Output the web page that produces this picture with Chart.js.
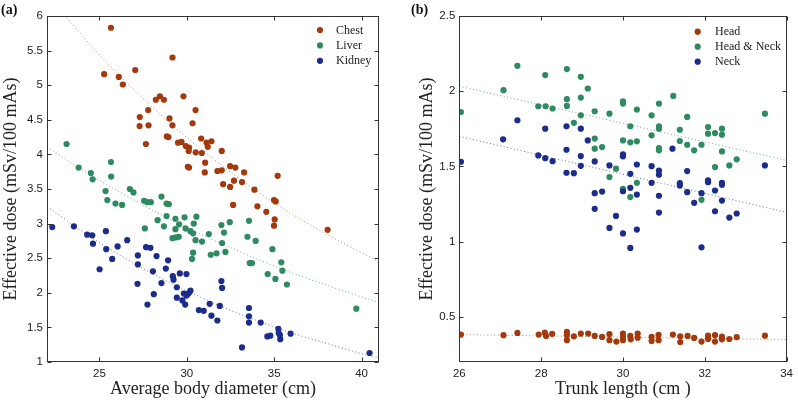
<!DOCTYPE html>
<html><head><meta charset="utf-8">
<script src="https://cdn.jsdelivr.net/npm/chart.js@4/dist/chart.umd.min.js"></script>
<style>
html,body{margin:0;padding:0;background:#fff;}
#wrap{position:relative;width:798px;height:400px;overflow:hidden;background:#fff;}
canvas{position:absolute;top:0;}
#ca{left:0;} #cb{left:400px;}
.plabel{position:absolute;top:2px;font:bold 14px 'Liberation Serif',serif;color:#111;}
</style></head><body>
<div id="wrap">
<canvas id="ca" width="398" height="400"></canvas>
<canvas id="cb" width="398" height="400"></canvas>
<div class="plabel" style="left:1px">(a)</div>
<div class="plabel" style="left:411px">(b)</div>
</div>
<script>
// ---------- Panel (a) data ----------
const namesA = ['Chest','Liver','Kidney'];
const xTicksA = [25,30,35,40];
const yTicksA = [1,1.5,2,2.5,3,3.5,4,4.5,5,5.5,6];
const chest = [[25.66,5.83],[29.18,5.40],[25.27,5.16],[27.05,5.22],[26.11,5.12],[26.34,5.01],[28.23,4.79],[28.46,4.84],[28.69,4.79],[29.81,4.84],[30.50,4.64],[27.79,4.64],[27.31,4.54],[27.30,4.41],[27.81,4.42],[29.01,4.52],[29.18,4.42],[30.33,4.45],[27.66,4.15],[28.86,4.26],[28.95,4.25],[29.50,4.17],[29.70,4.18],[29.94,4.12],[30.13,4.10],[30.11,4.05],[30.51,4.03],[30.86,4.02],[30.82,4.23],[31.13,4.17],[31.41,4.19],[31.20,4.11],[32.00,4.05],[30.06,3.82],[30.13,3.81],[31.05,3.88],[31.03,3.74],[31.75,3.76],[32.00,3.77],[32.48,3.83],[32.78,3.81],[33.28,3.74],[32.70,3.62],[33.16,3.60],[32.08,3.57],[32.48,3.53],[35.20,3.69],[33.87,3.49],[34.99,3.34],[35.09,3.32],[32.65,3.27],[34.04,3.25],[34.55,3.17],[35.03,3.06],[34.99,2.97],[38.06,2.91]];
const liver = [[23.12,4.15],[23.81,3.81],[24.51,3.73],[24.61,3.64],[25.66,3.89],[25.67,3.68],[25.35,3.47],[26.74,3.50],[26.95,3.45],[25.45,3.34],[25.92,3.29],[26.30,3.27],[27.56,3.33],[27.73,3.31],[27.94,3.31],[28.55,3.39],[28.84,3.29],[28.97,3.28],[27.60,2.93],[28.33,3.05],[28.84,3.11],[28.69,2.96],[29.35,3.07],[29.87,3.09],[29.56,2.99],[29.35,2.92],[29.93,2.93],[30.55,3.10],[30.40,3.00],[30.21,2.89],[30.36,2.86],[29.18,2.79],[29.37,2.80],[29.54,2.81],[30.50,2.76],[30.87,2.74],[31.26,2.85],[31.98,2.98],[32.46,3.02],[32.13,2.87],[32.02,2.72],[33.56,3.04],[33.47,2.81],[33.94,2.75],[30.36,2.58],[30.30,2.49],[31.37,2.55],[31.70,2.57],[32.21,2.59],[34.90,2.63],[33.60,2.43],[33.73,2.43],[35.41,2.44],[35.47,2.32],[34.63,2.27],[35.07,2.20],[35.73,2.12],[39.70,1.77]];
const kidney = [[22.30,2.95],[23.54,2.96],[24.30,2.84],[24.59,2.83],[24.63,2.71],[25.37,2.89],[25.39,2.63],[26.04,2.67],[25.73,2.49],[26.59,2.76],[25.01,2.34],[27.20,2.54],[27.20,2.41],[27.18,2.13],[27.75,1.83],[27.67,2.66],[27.92,2.65],[28.27,2.53],[28.06,2.31],[28.93,2.47],[28.80,2.35],[28.55,2.14],[28.11,1.98],[29.20,2.24],[29.24,2.19],[29.60,2.28],[29.98,2.27],[29.43,2.08],[29.43,1.93],[29.83,1.99],[29.75,1.89],[29.91,1.83],[30.04,1.98],[30.21,2.03],[30.13,2.00],[29.98,1.96],[30.69,1.75],[31.98,2.17],[32.02,2.07],[31.31,1.84],[31.89,1.81],[30.97,1.74],[31.41,1.67],[31.75,1.60],[33.56,1.78],[33.56,1.66],[33.56,1.57],[34.23,1.57],[35.24,1.48],[33.16,1.21],[34.61,1.37],[34.78,1.38],[35.26,1.42],[35.33,1.39],[35.35,1.33],[35.94,1.41],[40.46,1.13]];
// trend curves
const chestFit = [[23.1,5.98],[25,5.44],[27,4.93],[29,4.46],[31,4.04],[33,3.65],[35,3.30],[37,2.99],[39,2.71],[41,2.45]];
const liverFit = [[22,4.11],[24,3.78],[26,3.48],[28,3.20],[30,2.94],[32,2.71],[34,2.49],[36,2.29],[38,2.11],[40,1.94],[41,1.86]];
const kidneyFit = [[22,3.25],[24,2.89],[26,2.57],[28,2.28],[30,2.03],[32,1.80],[34,1.60],[36,1.42],[38,1.27],[40,1.12],[41,1.06]];

// ---------- Panel (b) data ----------
const namesB = ['Head','Head & Neck','Neck'];
const xTicksB = [26,28,30,32,34];
const yTicksB = [0.5,1,1.5,2,2.5];
const head = [[26.04,0.382],[27.08,0.378],[27.42,0.393],[27.94,0.382],[28.09,0.395],[28.12,0.373],[28.27,0.387],[28.63,0.40],[28.63,0.378],[28.63,0.345],[28.80,0.371],[28.97,0.389],[29.15,0.389],[29.31,0.373],[29.49,0.367],[29.67,0.385],[29.67,0.345],[29.84,0.336],[30.00,0.389],[30.00,0.367],[30.00,0.345],[30.18,0.373],[30.19,0.351],[30.36,0.389],[30.36,0.362],[30.70,0.367],[30.70,0.34],[30.87,0.38],[30.87,0.345],[31.22,0.382],[31.40,0.371],[31.40,0.333],[31.58,0.373],[31.74,0.36],[31.92,0.336],[32.08,0.375],[32.08,0.353],[32.25,0.378],[32.25,0.336],[32.42,0.369],[32.42,0.351],[32.60,0.353],[32.78,0.365],[33.47,0.375]];
const headNeck = [[26.04,1.862],[27.08,2.007],[27.42,2.169],[28.10,2.107],[28.63,2.147],[27.93,1.90],[28.11,1.90],[28.28,1.885],[28.63,1.947],[28.63,1.902],[28.80,1.79],[28.97,2.096],[29.14,2.018],[28.97,1.958],[28.97,1.84],[29.31,1.867],[29.67,1.851],[30.00,1.933],[30.00,1.918],[30.34,1.878],[30.18,1.767],[29.31,1.685],[29.31,1.618],[29.49,1.629],[30.00,1.673],[30.18,1.66],[30.34,1.667],[29.83,1.485],[29.67,1.429],[30.34,1.391],[30.00,1.351],[30.18,1.296],[30.88,1.918],[30.70,1.84],[31.23,1.969],[31.57,1.829],[30.88,1.767],[30.88,1.751],[30.70,1.707],[31.39,1.744],[32.08,1.762],[32.08,1.718],[32.25,1.722],[32.42,1.751],[32.42,1.711],[30.88,1.622],[30.88,1.607],[31.39,1.669],[31.57,1.644],[31.74,1.607],[31.92,1.644],[32.42,1.60],[32.78,1.547],[32.60,1.507],[32.25,1.496],[33.47,1.851],[31.92,1.278]];
const neck = [[26.04,1.531],[27.07,1.68],[27.42,1.807],[28.10,1.751],[28.62,1.767],[28.97,1.751],[27.93,1.573],[28.10,1.555],[28.28,1.535],[28.62,1.611],[28.62,1.458],[28.80,1.455],[28.97,1.569],[28.97,1.504],[29.14,1.673],[29.31,1.533],[29.31,1.322],[29.49,1.333],[29.31,1.218],[29.67,1.507],[29.83,1.171],[29.67,1.091],[30.00,1.58],[30.00,1.567],[30.00,1.335],[30.18,1.358],[30.18,1.451],[30.34,1.513],[30.34,1.313],[30.00,1.055],[30.18,0.958],[30.34,1.08],[30.70,1.502],[30.88,1.473],[30.88,1.445],[30.70,1.391],[30.88,1.305],[30.88,1.193],[31.21,1.618],[31.39,1.389],[31.39,1.373],[31.57,1.469],[31.57,1.329],[31.74,1.258],[31.92,1.322],[32.08,1.407],[32.08,1.395],[32.25,1.34],[32.42,1.391],[32.42,1.378],[32.42,1.273],[32.25,1.202],[32.60,1.16],[32.78,1.187],[31.92,0.962],[33.47,1.507]];
const headFit = [[26,0.382],[34,0.349]];
const headNeckFit = [[26,2.033],[34,1.54]];
const neckFit = [[26,1.70],[34,1.195]];

// ---------- styling ----------
const ORANGE = '#A3390C', GREEN = '#2E8A61', BLUE = '#1B2C8C';
const ORANGE_L = 'rgba(190,100,60,0.8)', GREEN_L = 'rgba(70,150,130,0.8)', BLUE_L = 'rgba(60,75,150,0.8)';
const TICKFONT = {family:"'Liberation Sans', Arial, sans-serif", size:11.5};
const TITLEFONT = {family:"'Liberation Serif', 'Times New Roman', serif", size:18};
const toXY = arr => arr.map(p => ({x:p[0], y:p[1]}));

function pts(label, arr, color, order){
  return {label, data: toXY(arr), inLegend:true, order,
    backgroundColor: color, borderColor: color, pointBackgroundColor: color,
    pointRadius: 3.1, pointBorderWidth: 0, pointHoverRadius: 3.1, showLine:false};
}
function fitLine(arr, color){
  return {label:'', data: toXY(arr), inLegend:false, order:10, showLine:true,
    pointRadius:0, borderColor: color, borderWidth:1, borderDash:[1,2.5],
    cubicInterpolationMode:'monotone', fill:false};
}

const framePlugin = {
  id:'frame',
  afterDraw(chart){
    const {ctx, chartArea:a, scales:{x, y}} = chart;
    const L = 4;
    ctx.save();
    ctx.strokeStyle = '#333'; ctx.lineWidth = 1;
    const l = Math.round(a.left)+0.5, t = Math.round(a.top)+0.5, r = Math.round(a.right)-0.5, b = Math.round(a.bottom)-0.5;
    ctx.strokeRect(l, t, r-l, b-t);
    ctx.beginPath();
    x.ticks.forEach(tk => {
      const px = Math.round(x.getPixelForValue(tk.value))+0.5;
      ctx.moveTo(px, b); ctx.lineTo(px, b-L);
      ctx.moveTo(px, t); ctx.lineTo(px, t+L);
    });
    y.ticks.forEach(tk => {
      const py = Math.round(y.getPixelForValue(tk.value))+0.5;
      ctx.moveTo(l, py); ctx.lineTo(l+L, py);
      ctx.moveTo(r, py); ctx.lineTo(r-L, py);
    });
    ctx.stroke();
    ctx.restore();
  }
};

const legendPlugin = {
  id:'ptLegend',
  afterDraw(chart, args, o){
    const ctx = chart.ctx;
    ctx.save();
    ctx.font = "12px 'Liberation Serif', serif";
    ctx.textBaseline = 'middle';
    ctx.textAlign = 'left';
    chart.data.datasets.filter(d => d.inLegend).forEach((d, i) => {
      const yy = o.y + i*o.gap;
      ctx.fillStyle = d.backgroundColor;
      ctx.beginPath(); ctx.arc(o.x, yy, 3.1, 0, Math.PI*2); ctx.fill();
      ctx.fillStyle = '#222';
      ctx.fillText(d.label, o.tx, yy + 0.5);
    });
    ctx.restore();
  }
};

function axisCfg(min, max, ticksArr, title, fitSize, horizontal, pad){
  return {
    type:'linear', min, max,
    afterBuildTicks: s => { s.ticks = ticksArr.map(v => ({value:v})); },
    afterFit: s => { if (horizontal) s.height = fitSize; else s.width = fitSize; },
    grid:{display:false, drawTicks:false},
    border:{display:false},
    ticks:{padding:pad, color:'#222', font:TICKFONT, maxRotation:0, autoSkip:false, callback: v => String(v)},
    title:{display:true, text:title, color:'#222', font:TITLEFONT, padding:{top:0, bottom:0}}
  };
}

function makeChart(id, datasets, xs, ys, padding, legendPos){
  return new Chart(document.getElementById(id), {
    type:'scatter',
    data:{datasets},
    options:{
      responsive:false, animation:false, events:[], devicePixelRatio:1,
      layout:{padding},
      plugins:{legend:{display:false}, tooltip:{enabled:false}, ptLegend: legendPos},
      scales:{x: xs, y: ys}
    },
    plugins:[framePlugin, legendPlugin]
  });
}

makeChart('ca', [
    pts(namesA[0], chest, ORANGE, 3),
    pts(namesA[1], liver, GREEN, 2),
    pts(namesA[2], kidney, BLUE, 1),
    fitLine(chestFit, ORANGE_L), fitLine(liverFit, GREEN_L), fitLine(kidneyFit, BLUE_L)
  ],
  axisCfg(22, 41, xTicksA, 'Average body diameter (cm)', 38, true, 5),
  axisCfg(1, 6, yTicksA, 'Effective dose (mSv/100 mAs)', 47, false, 4),
  {left:0, top:16, right:19, bottom:0},
  {x:320, y:30, gap:15.4, tx:336}
);

makeChart('cb', [
    pts(namesB[0], head, ORANGE, 3),
    pts(namesB[1], headNeck, GREEN, 2),
    pts(namesB[2], neck, BLUE, 1),
    fitLine(headFit, ORANGE_L), fitLine(headNeckFit, GREEN_L), fitLine(neckFit, BLUE_L)
  ],
  axisCfg(26, 34, xTicksB, 'Trunk length (cm )', 38, true, 5),
  axisCfg(0.2, 2.5, yTicksB, 'Effective dose (mSv/100 mAs)', 43.3, false, 4),
  {left:16, top:16, right:8.7, bottom:0},
  {x:297.7, y:31.7, gap:15, tx:315}
);
</script>
</body></html>
